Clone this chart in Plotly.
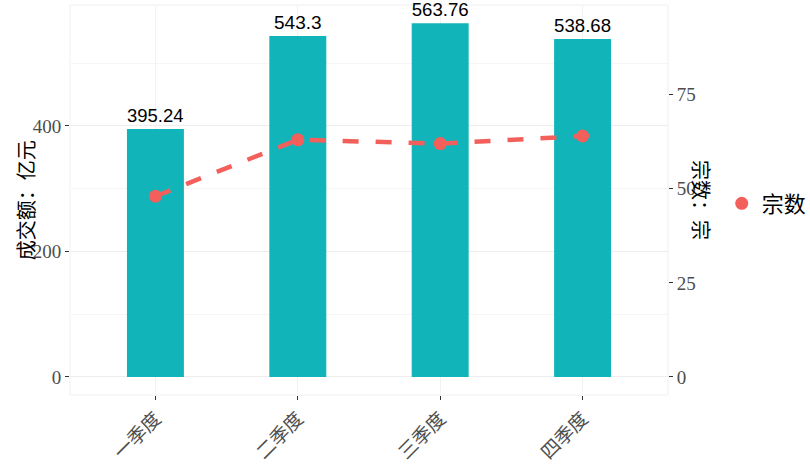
import plotly.graph_objects as go

categories = ["一季度", "二季度", "三季度", "四季度"]
amount = [395.24, 543.3, 563.76, 538.68]
count = [48, 63, 62, 64]
amount_labels = ["395.24", "543.3", "563.76", "538.68"]

BAR = "#11B4B9"
LINE = "#F3605C"
SERIF = "Liberation Serif, Noto Sans CJK SC"
CJK = "Noto Sans CJK SC"

fig = go.Figure()
fig.add_trace(go.Bar(
    x=categories, y=amount, width=0.4, marker=dict(color=BAR, line=dict(width=0)),
    text=amount_labels, textposition="outside", cliponaxis=False,
    textfont=dict(family="Liberation Sans, Arial", size=19, color="black"),
    showlegend=False, hoverinfo="skip",
))
fig.add_trace(go.Scatter(
    x=categories, y=count, yaxis="y2", mode="lines",
    line=dict(color=LINE, width=4.5, dash="16px,17px"),
    showlegend=False, hoverinfo="skip",
))
fig.add_trace(go.Scatter(
    x=categories, y=count, yaxis="y2", mode="markers", name="宗数",
    marker=dict(color=LINE, size=13), hoverinfo="skip",
))

grid = "#EDEDED"
tickfont = dict(family=SERIF, size=19, color="#4D4D4D")
fig.update_layout(
    width=810, height=469,
    margin=dict(l=70, r=142, t=5, b=74),
    plot_bgcolor="white", paper_bgcolor="white",
    xaxis=dict(
        range=[-0.6, 3.6], showgrid=True, gridcolor="#F2F2F2", gridwidth=1,
        ticks="outside", ticklen=4, tickcolor="#333333", tickangle=-45,
        tickfont=tickfont, automargin=False,
        zeroline=False, showline=False,
    ),
    yaxis=dict(
        range=[-28.7, 592.8], tickvals=[0, 200, 400], showgrid=True,
        gridcolor=grid, gridwidth=1,
        minor=dict(tickvals=[100, 300, 500], showgrid=True, gridcolor="#F5F5F5", gridwidth=1, ticks=""),
        ticks="outside", ticklen=4, tickcolor="#333333",
        tickfont=tickfont, automargin=False,
        zeroline=False, showline=False,
    ),
    yaxis2=dict(
        overlaying="y", side="right", range=[-28.7 / 6, 592.8 / 6],
        tickvals=[0, 25, 50, 75], showgrid=False,
        ticks="outside", ticklen=4, tickcolor="#333333",
        tickfont=tickfont, automargin=False,
        zeroline=False, showline=False,
    ),
    legend=dict(
        xref="container", yref="container",
        x=0.891, y=0.566, xanchor="left", yanchor="middle",
        font=dict(family=CJK, size=22, color="black"),
        itemwidth=30, bgcolor="rgba(0,0,0,0)",
    ),
    shapes=[dict(type="rect", xref="paper", yref="paper", x0=0, x1=1, y0=0, y1=1,
                 line=dict(color="#F0F0F0", width=1), layer="below")],
    annotations=[
        dict(text="成交额：亿元", xref="paper", yref="paper", x=-0.075, y=0.5,
             xanchor="center", yanchor="middle", textangle=-90, showarrow=False,
             font=dict(family=CJK, size=20, color="black")),
        dict(text="宗数：宗", xref="paper", yref="paper", x=1.057, y=0.5,
             xanchor="center", yanchor="middle", textangle=90, showarrow=False,
             font=dict(family=CJK, size=20, color="black")),
    ],
)

fig.write_html("out.html", config={"displayModeBar": False},
               post_script="document.body.style.margin='0';document.body.style.overflow='hidden';")
